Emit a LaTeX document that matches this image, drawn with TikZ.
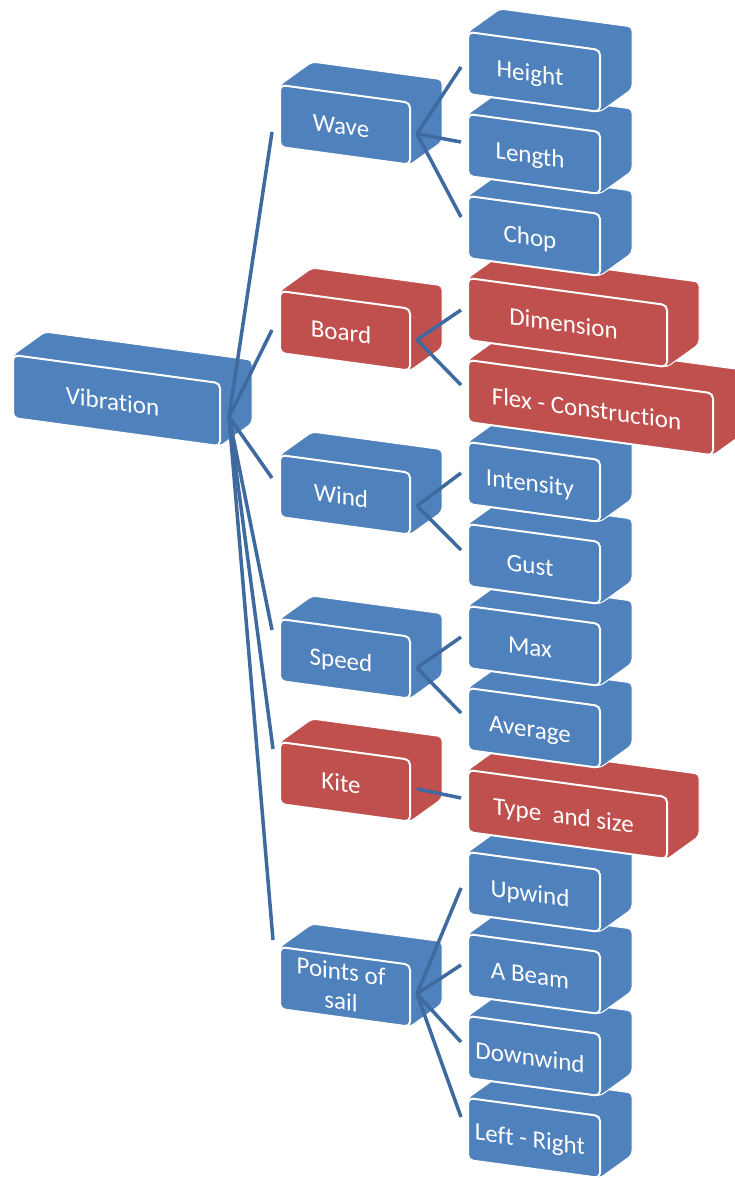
\documentclass[tikz,border=0pt]{standalone}
\usepackage{fontspec}
\setmainfont{Carlito}[Ligatures={NoCommon}]
\usetikzlibrary{calc}
\definecolor{cblue}{RGB}{79,129,189}
\definecolor{cred}{RGB}{192,80,77}
\definecolor{cline}{RGB}{62,106,160}
\tikzset{
  back/.style={draw=white, line width=1pt, rounded corners=4pt},
  face/.style={rectangle, draw=white, line width=2pt, rounded corners=5pt,
    yslant=-0.136, inner sep=0pt, text=white, align=center,
    text height=23pt, text depth=3pt,
    font=\fontsize{25}{30}\selectfont},
  conn/.style={draw=cline, line width=3.5pt},
}
\newcommand\cubebox[8][]{%
  \pgfmathsetmacro\cbcx{#3+#5/2}%
  \pgfmathsetmacro\cbcy{#4+0.136*#5/2+#6/2}%
  \pgfmathsetmacro\cbsw{0.136*#5}%
  \path[back, fill=#7] (#3,#4) -- ++(32,-23) -- ++(#5,\cbsw) -- ++(0,#6) -- ++(-32,23) -- ++(-#5,-\cbsw) -- cycle;
  \node[face, fill=#7, minimum width=#5pt, minimum height=#6pt, #1] (#2) at (\cbcx,\cbcy) {\kern-8pt#8};
}
\begin{document}
\begin{tikzpicture}[x=1pt, y=-1pt]
\clip (0,0) rectangle (735,1178);
\fill[white] (0,0) rectangle (735,1178);
% root
\cubebox{vib}{13}{355}{207}{63}{cblue}{Vibration}
% level 2
\cubebox[text height=, text depth=]{pos}{280}{947}{130}{62}{cblue}{Points of\\\kern-8pt sail}
\cubebox{kite}{280}{742}{130}{62}{cred}{Kite}
\cubebox{speed}{280}{619}{130}{62}{cblue}{Speed}
\cubebox{wind}{280}{455}{130}{62}{cblue}{Wind}
\cubebox{board}{280}{291}{130}{62}{cred}{Board}
\cubebox{wave}{280}{85}{130}{62}{cblue}{Wave}
% level 3 (drawn from the bottom up, so upper boxes overlap lower ones)
\cubebox{lr}{468}{1098}{132}{62}{cblue}{Left - Right}
\cubebox{downw}{468}{1016}{132}{62}{cblue}{Downwind}
\cubebox{abeam}{468}{934}{132}{62}{cblue}{A Beam}
\cubebox{upw}{468}{852}{132}{62}{cblue}{Upwind}
\cubebox{type}{468}{770}{199}{62}{cred}{Type\ \ and size}
\cubebox{avg}{468}{688}{132}{62}{cblue}{Average}
\cubebox{max}{468}{606}{132}{62}{cblue}{Max}
\cubebox{gust}{468}{524}{132}{62}{cblue}{Gust}
\cubebox{intens}{468}{442}{132}{62}{cblue}{Intensity}
\cubebox{flex}{468}{360}{245}{62}{cred}{Flex - Construction}
\cubebox{dim}{468}{278}{199}{62}{cred}{Dimension}
\cubebox{chop}{468}{196}{132}{62}{cblue}{Chop}
\cubebox{length}{468}{114}{132}{62}{cblue}{Length}
\cubebox{height}{468}{32}{132}{62}{cblue}{Height}
% connector start points
\coordinate (vibout) at ($(vib.east)+(8,2)$);
\coordinate (waveout) at ($(wave.east)+(6,0)$);
\coordinate (boardout) at ($(board.east)+(6,0)$);
\coordinate (windout) at ($(wind.east)+(6,2)$);
\coordinate (speedout) at ($(speed.east)+(6,0)$);
\coordinate (kiteout) at ($(kite.east)+(6,-2)$);
\coordinate (posout) at ($(pos.east)+(6,-2)$);
% connector end points
\coordinate (wavein) at (272,132);
\coordinate (boardin) at (272,330);
\coordinate (windin) at (272,478);
\coordinate (speedin) at (272,630);
\coordinate (kitein) at (273,749);
\coordinate (posin) at (273,940);
\coordinate (heightin) at (461,67);
\coordinate (lengthin) at (461,142);
\coordinate (chopin) at (461,217);
\coordinate (dimin) at (461,310);
\coordinate (flexin) at (461,385);
\coordinate (intensin) at (461,473);
\coordinate (gustin) at (461,550);
\coordinate (maxin) at (461,637);
\coordinate (avgin) at (461,713);
\coordinate (typein) at (461,798);
\coordinate (upwin) at (461,888);
\coordinate (abeamin) at (461,965);
\coordinate (downwin) at (461,1042);
\coordinate (lrin) at (461,1117);
% connectors
\foreach \t in {wavein,boardin,windin,speedin,kitein,posin}
  \draw[conn] (vibout) -- (\t);
\foreach \t in {heightin,lengthin,chopin}
  \draw[conn] (waveout) -- (\t);
\foreach \t in {dimin,flexin}
  \draw[conn] (boardout) -- (\t);
\foreach \t in {intensin,gustin}
  \draw[conn] (windout) -- (\t);
\foreach \t in {maxin,avgin}
  \draw[conn] (speedout) -- (\t);
\draw[conn] (kiteout) -- (typein);
\foreach \t in {upwin,abeamin,downwin,lrin}
  \draw[conn] (posout) -- (\t);
\end{tikzpicture}
\end{document}
